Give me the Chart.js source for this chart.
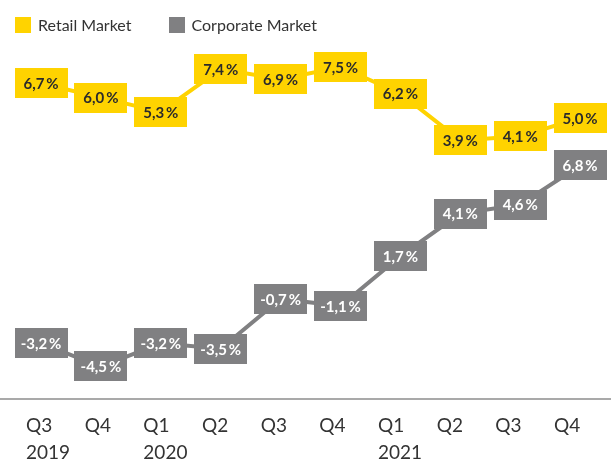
<!DOCTYPE html>
<html>
<head>
<meta charset="utf-8">
<script src="https://cdn.jsdelivr.net/npm/chart.js@4"></script>
<style>
  body { margin: 0; background: #fff; font-family: Lato, sans-serif; }
  #wrap { position: relative; width: 611px; height: 460px; }
  #legend { position: absolute; left: 15px; top: 17px; display: flex; align-items: center; font-size: 16px; color: #333; }
  #legend span.box { display: inline-block; width: 16px; height: 16px; margin-right: 7px; }
  #legend span.item { display: flex; align-items: center; margin-right: 37px; line-height: 16px; }
</style>
</head>
<body>
<div id="wrap">
  <canvas id="myChart" width="611" height="460"></canvas>
  <div id="legend"></div>
</div>
<script>
const quarters = ['Q3', 'Q4', 'Q1', 'Q2', 'Q3', 'Q4', 'Q1', 'Q2', 'Q3', 'Q4'];
const years = ['2019', '', '2020', '', '', '', '2021', '', '', ''];
const retail = [6.7, 6.0, 5.3, 7.4, 6.9, 7.5, 6.2, 3.9, 4.1, 5.0];
const corporate = [-3.2, -4.5, -3.2, -3.5, -0.7, -1.1, 1.7, 4.1, 4.6, 6.8];

const yellow = '#FFD300';
const grey = '#808082';

function fmt(v) {
  return v.toFixed(1).replace('.', ',') + '\u2009%';
}

// legend as html
const series = [
  { name: 'Retail Market', color: yellow },
  { name: 'Corporate Market', color: grey }
];
const legend = document.getElementById('legend');
series.forEach(s => {
  const item = document.createElement('span');
  item.className = 'item';
  item.innerHTML = '<span class="box" style="background:' + s.color + '"></span>' + s.name;
  legend.appendChild(item);
});

// boxes with values on each point
const boxLabels = {
  id: 'boxLabels',
  afterDatasetsDraw(chart) {
    const ctx = chart.ctx;
    ctx.save();
    chart.data.datasets.forEach((ds, di) => {
      const meta = chart.getDatasetMeta(di);
      meta.data.forEach((pt, i) => {
        const w = 53, h = 30;
        ctx.fillStyle = ds.borderColor;
        ctx.fillRect(Math.round(pt.x - w / 2), Math.round(pt.y - h / 2), w, h);
        ctx.fillStyle = ds.textColor;
        ctx.font = 'bold 15px Lato';
        ctx.textAlign = 'center';
        ctx.textBaseline = 'middle';
        ctx.fillText(fmt(ds.data[i].y), pt.x, pt.y + 1);
      });
    });
    ctx.restore();
  }
};

const ctx = document.getElementById('myChart');

new Chart(ctx, {
  type: 'line',
  data: {
    datasets: [{
      label: 'Retail Market',
      data: retail.map((v, i) => ({ x: i, y: v })),
      borderColor: yellow,
      backgroundColor: yellow,
      textColor: '#2b2b2b',
      borderWidth: 4,
      pointRadius: 0,
      tension: 0,
      yAxisID: 'yr'
    }, {
      label: 'Corporate Market',
      data: corporate.map((v, i) => ({ x: i, y: v })),
      borderColor: grey,
      backgroundColor: grey,
      textColor: '#ffffff',
      borderWidth: 4,
      pointRadius: 0,
      tension: 0,
      yAxisID: 'yc'
    }]
  },
  options: {
    responsive: false,
    animation: false,
    layout: { padding: 0 },
    plugins: {
      legend: { display: false },
      tooltip: { enabled: false }
    },
    scales: {
      x: {
        type: 'linear',
        display: false,
        min: -0.6845,
        max: 9.516
      },
      xl: {
        type: 'linear',
        position: 'bottom',
        min: -0.4432,
        max: 9.971,
        afterBuildTicks: s => { s.ticks = quarters.map((q, i) => ({ value: i })); },
        afterFit: s => { s.height = 61; },
        grid: { display: false, drawTicks: false },
        border: { display: true, color: '#a9a9a9', width: 2 },
        ticks: {
          autoSkip: false,
          maxRotation: 0,
          align: 'start',
          padding: 13,
          color: '#333',
          font: { family: 'Lato', size: 19, lineHeight: 1.42 },
          callback: (v) => years[v] ? [quarters[v], years[v]] : quarters[v]
        }
      },
      yr: {
        display: false,
        min: -8.775,
        max: 10.784
      },
      yc: {
        display: false,
        min: -6.327,
        max: 16.102
      }
    }
  },
  plugins: [boxLabels]
});
</script>
</body>
</html>
